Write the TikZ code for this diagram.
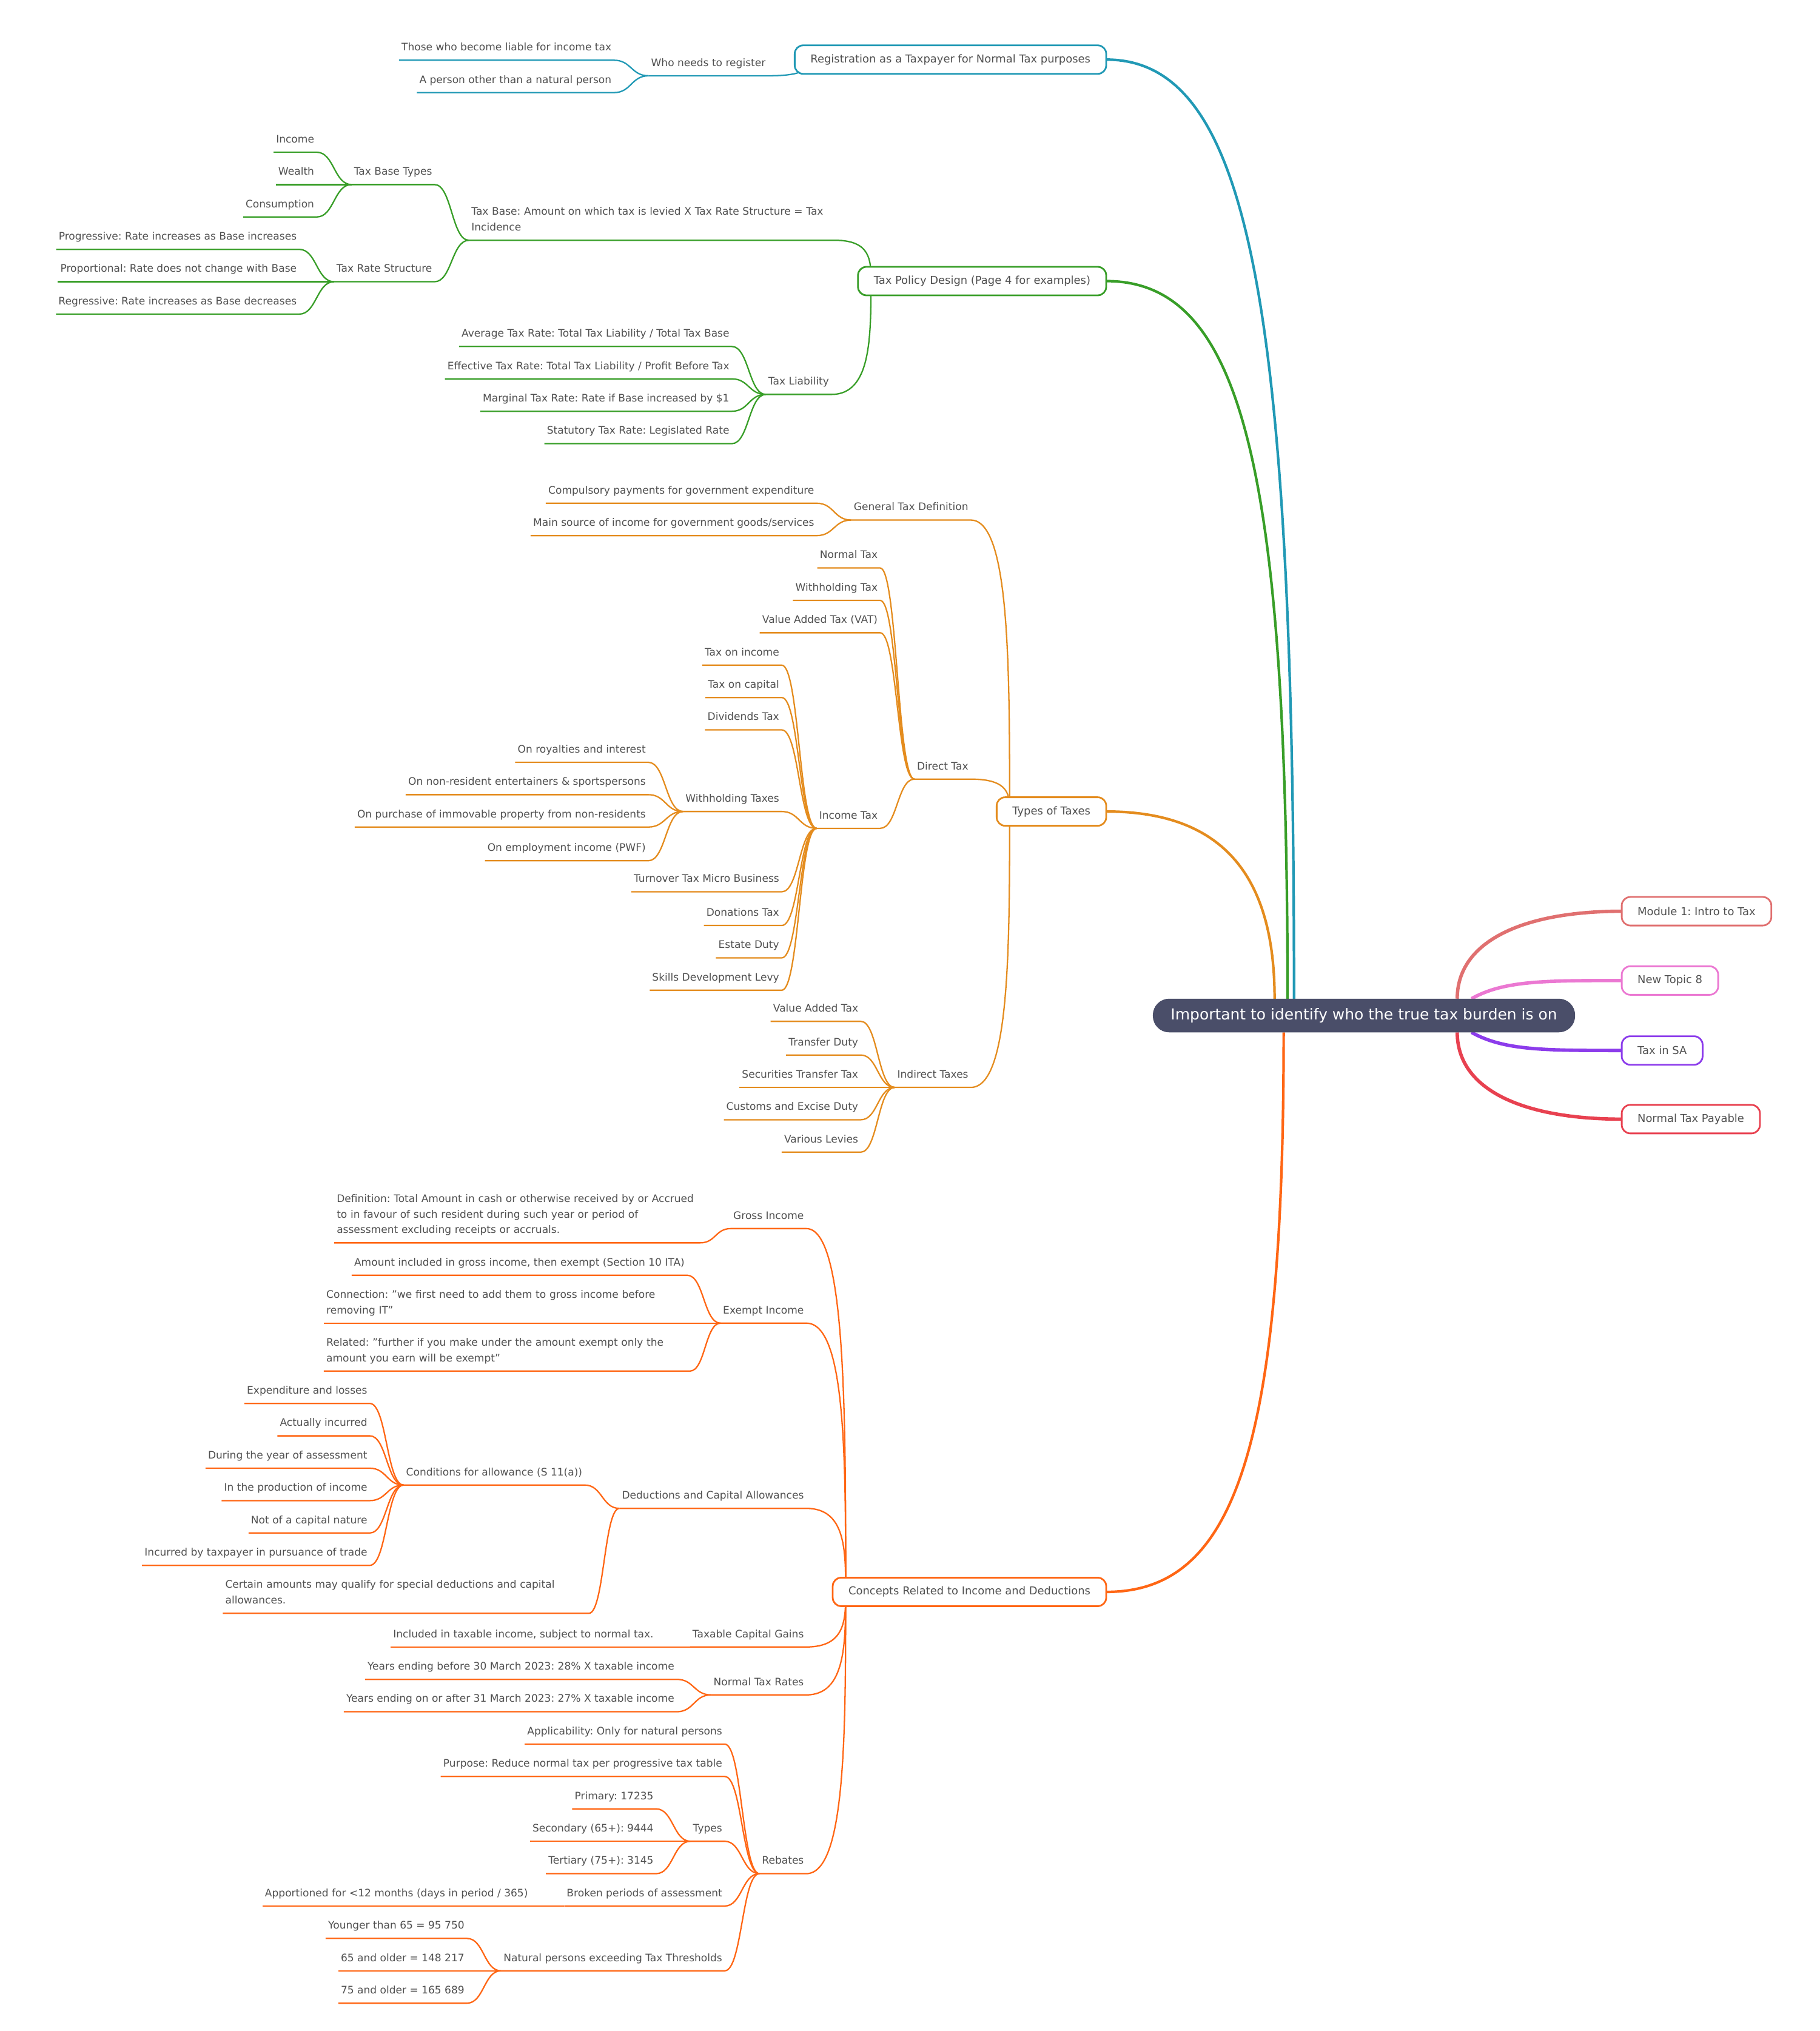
\documentclass[tikz,border=0pt]{standalone}
\usepackage{fontspec}
\setmainfont{DejaVu Sans}
\usepackage{xcolor}
\usepackage{tikz}
\usetikzlibrary{calc, backgrounds}
\definecolor{rootslate}{HTML}{4A4E69}
\definecolor{textgray}{HTML}{505050}
\definecolor{regteal}{HTML}{2199B5}
\definecolor{policygreen}{HTML}{389E28}
\definecolor{typesorange}{HTML}{E48C1E}
\definecolor{conceptorange}{HTML}{FF6614}
\definecolor{modsalmon}{HTML}{E07070}
\definecolor{topicpink}{HTML}{EB78D2}
\definecolor{sapurple}{HTML}{8C3CEB}
\definecolor{payred}{HTML}{E84150}
\frenchspacing

\begin{document}
\begin{tikzpicture}[x=0.21352mm, y=-0.21352mm,
  root/.style={rectangle, fill=rootslate, text=white, rounded corners=2.7mm, minimum width=6.96cm, minimum height=5.55mm, inner sep=0pt, outer sep=0pt, font=\fontsize{7.1}{8.5}\selectfont},
  topic/.style={rectangle, draw=#1, fill=white, line width=0.8pt, rounded corners=1.4mm, minimum height=4.7mm, inner xsep=2.6mm, inner ysep=0pt, outer sep=0pt, text=textgray, font=\fontsize{5.1}{6}\selectfont},
  leaf/.style={inner xsep=1.2pt, inner ysep=3.25pt, outer sep=0pt, text depth=1.2pt, text=textgray, font=\fontsize{4.85}{7.3}\selectfont},
  para/.style={leaf, text depth=, text width=5.95cm, align=left, execute at end node={\rule[-1.2pt]{0pt}{1pt}}},
  main/.style={draw=#1, line width=1.2pt},
  side/.style={draw=#1, line width=1.6pt},
  twig/.style={draw=#1, line width=0.65pt},
  link/.style={to path={let \p1=(\tikztostart), \p2=(\tikztotarget) in .. controls ({(\x1+\x2)/2},\y1) and ({(\x1+\x2)/2},\y2) .. (\tikztotarget)}},
  tobox/.style={to path={let \p1=(\tikztostart), \p2=(\tikztotarget) in .. controls (\x2,\y1) and (\x2,{(\y1+\y2)/2}) .. (\tikztotarget)}}
]
  \useasboundingbox (0,0) rectangle (1405,1568);

  \node[root] (root) at (1053,784) {Important to identify who the true tax burden is on};

  \node[topic=modsalmon, anchor=west] (mod1) at (1252,703.5) {Module 1: Intro to Tax};
  \node[topic=topicpink, anchor=west] (topic8) at (1252,757) {New Topic 8};
  \node[topic=sapurple, anchor=west] (taxsa) at (1252,811) {Tax in SA};
  \node[topic=payred, anchor=west] (payable) at (1252,864) {Normal Tax Payable};

  \node[topic=regteal, anchor=east] (reg) at (854,46) {Registration as a Taxpayer for Normal Tax purposes};
  \node[leaf, anchor=south east] (whoreg) at (593,58.5) {Who needs to register};
  \node[leaf, anchor=south east] (liable) at (474,46.5) {Those who become liable for income tax};
  \node[leaf, anchor=south east] (nonnatural) at (474,71.5) {A person other than a natural person};

  \node[topic=policygreen, anchor=east] (policy) at (854,217) {Tax Policy Design (Page 4 for examples)};
  \node[para, anchor=south west] (taxbase) at (362,185.5) {Tax Base: Amount on which tax is levied X Tax Rate Structure = Tax\\Incidence};
  \node[leaf, anchor=south east] (basetypes) at (335.5,142.5) {Tax Base Types};
  \node[leaf, anchor=south east] (income) at (244.5,117.5) {Income};
  \node[leaf, anchor=south east] (wealth) at (244.5,142.5) {Wealth};
  \node[leaf, anchor=south east] (consumption) at (244.5,167.5) {Consumption};
  \node[leaf, anchor=south east] (ratestruct) at (335.5,217.5) {Tax Rate Structure};
  \node[leaf, anchor=south east] (progressive) at (231,192.5) {Progressive: Rate increases as Base increases};
  \node[leaf, anchor=south east] (proportional) at (231,217.5) {Proportional: Rate does not change with Base};
  \node[leaf, anchor=south east] (regressive) at (231,242.5) {Regressive: Rate increases as Base decreases};
  \node[leaf, anchor=south east] (liability) at (642,304.5) {Tax Liability};
  \node[leaf, anchor=south east] (avgrate) at (565,267.5) {Average Tax Rate: Total Tax Liability / Total Tax Base};
  \node[leaf, anchor=south east] (effrate) at (565,292.5) {Effective Tax Rate: Total Tax Liability / Profit Before Tax};
  \node[leaf, anchor=south east] (margrate) at (565,317.5) {Marginal Tax Rate: Rate if Base increased by \$1};
  \node[leaf, anchor=south east] (statrate) at (565,342.5) {Statutory Tax Rate: Legislated Rate};

  \node[topic=typesorange, anchor=east] (types) at (854,626.5) {Types of Taxes};
  \node[leaf, anchor=south east] (gendef) at (749.5,401.5) {General Tax Definition};
  \node[leaf, anchor=south east] (compulsory) at (630.5,388.5) {Compulsory payments for government expenditure};
  \node[leaf, anchor=south east] (mainsource) at (630.5,413.5) {Main source of income for government goods/services};
  \node[leaf, anchor=south east] (direct) at (749.5,601.5) {Direct Tax};
  \node[leaf, anchor=south east] (normaltax) at (679.5,438.5) {Normal Tax};
  \node[leaf, anchor=south east] (whtax) at (679.5,463.5) {Withholding Tax};
  \node[leaf, anchor=south east] (vatdirect) at (679.5,488.5) {Value Added Tax (VAT)};
  \node[leaf, anchor=south east] (incometax) at (679.5,639.5) {Income Tax};
  \node[leaf, anchor=south east] (taxincome) at (603.5,513.5) {Tax on income};
  \node[leaf, anchor=south east] (taxcapital) at (603.5,538.5) {Tax on capital};
  \node[leaf, anchor=south east] (dividends) at (603.5,563.5) {Dividends Tax};
  \node[leaf, anchor=south east] (whtaxes) at (603.5,626.5) {Withholding Taxes};
  \node[leaf, anchor=south east] (turnover) at (603.5,688.5) {Turnover Tax Micro Business};
  \node[leaf, anchor=south east] (donations) at (603.5,714.5) {Donations Tax};
  \node[leaf, anchor=south east] (estate) at (603.5,739.5) {Estate Duty};
  \node[leaf, anchor=south east] (skills) at (603.5,764.5) {Skills Development Levy};
  \node[leaf, anchor=south east] (royalties) at (500.5,588.5) {On royalties and interest};
  \node[leaf, anchor=south east] (entertainers) at (500.5,613.5) {On non-resident entertainers \& sportspersons};
  \node[leaf, anchor=south east] (immovable) at (500.5,638.5) {On purchase of immovable property from non-residents};
  \node[leaf, anchor=south east] (employment) at (500.5,664.5) {On employment income (PWF)};
  \node[leaf, anchor=south east] (indirect) at (749.5,839.5) {Indirect Taxes};
  \node[leaf, anchor=south east] (vatindirect) at (664.5,788.5) {Value Added Tax};
  \node[leaf, anchor=south east] (transfer) at (664.5,814.5) {Transfer Duty};
  \node[leaf, anchor=south east] (securities) at (664.5,839.5) {Securities Transfer Tax};
  \node[leaf, anchor=south east] (customs) at (664.5,864.5) {Customs and Excise Duty};
  \node[leaf, anchor=south east] (levies) at (664.5,889.5) {Various Levies};

  \node[topic=conceptorange, anchor=east] (concepts) at (854,1229) {Concepts Related to Income and Deductions};
  \node[leaf, anchor=south east] (gross) at (622.5,948.5) {Gross Income};
  \node[para, anchor=south west] (definition) at (258,959.5) {Definition: Total Amount in cash or otherwise received by or Accrued\\to in favour of such resident during such year or period of\\assessment excluding receipts or accruals.};
  \node[leaf, anchor=south east] (exempt) at (622.5,1021.5) {Exempt Income};
  \node[leaf, anchor=south east] (amount) at (530.5,984.5) {Amount included in gross income, then exempt (Section 10 ITA)};
  \node[para, anchor=south west] (connection) at (250,1021.5) {Connection: \symbol{34}we first need to add them to gross income before\\removing IT\symbol{34}};
  \node[para, anchor=south west] (related) at (250,1058.5) {Related: \symbol{34}further if you make under the amount exempt only the\\amount you earn will be exempt\symbol{34}};
  \node[leaf, anchor=south east] (deductions) at (622.5,1164.5) {Deductions and Capital Allowances};
  \node[leaf, anchor=south east] (conditions) at (451.5,1146.5) {Conditions for allowance (S 11(a))};
  \node[leaf, anchor=south east] (expenditure) at (285.5,1083.5) {Expenditure and losses};
  \node[leaf, anchor=south east] (incurred) at (285.5,1108.5) {Actually incurred};
  \node[leaf, anchor=south east] (duringyear) at (285.5,1133.5) {During the year of assessment};
  \node[leaf, anchor=south east] (production) at (285.5,1158.5) {In the production of income};
  \node[leaf, anchor=south east] (notcapital) at (285.5,1183.5) {Not of a capital nature};
  \node[leaf, anchor=south east] (pursuance) at (285.5,1208.5) {Incurred by taxpayer in pursuance of trade};
  \node[para, anchor=south west] (certain) at (172,1245.5) {Certain amounts may qualify for special deductions and capital\\allowances.};
  \node[leaf, anchor=south east] (capgains) at (622.5,1271.5) {Taxable Capital Gains};
  \node[leaf, anchor=south east] (included) at (506.5,1271.5) {Included in taxable income, subject to normal tax.};
  \node[leaf, anchor=south east] (taxrates) at (622.5,1308.5) {Normal Tax Rates};
  \node[leaf, anchor=south east] (before) at (522.5,1296.5) {Years ending before 30 March 2023: 28\% X taxable income};
  \node[leaf, anchor=south east] (after) at (522.5,1321.5) {Years ending on or after 31 March 2023: 27\% X taxable income};
  \node[leaf, anchor=south east] (rebates) at (622.5,1446.5) {Rebates};
  \node[leaf, anchor=south east] (applicability) at (559.5,1346.5) {Applicability: Only for natural persons};
  \node[leaf, anchor=south east] (purpose) at (559.5,1371.5) {Purpose: Reduce normal tax per progressive tax table};
  \node[leaf, anchor=south east] (rebtypes) at (559.5,1421.5) {Types};
  \node[leaf, anchor=south east] (primary) at (506.5,1396.5) {Primary: 17235};
  \node[leaf, anchor=south east] (secondary) at (506.5,1421.5) {Secondary (65+): 9444};
  \node[leaf, anchor=south east] (tertiary) at (506.5,1446.5) {Tertiary (75+): 3145};
  \node[leaf, anchor=south east] (broken) at (559.5,1471.5) {Broken periods of assessment};
  \node[leaf, anchor=south east] (apportioned) at (409.5,1471.5) {Apportioned for <12 months (days in period / 365)};
  \node[leaf, anchor=south east] (natural) at (559.5,1521.5) {Natural persons exceeding Tax Thresholds};
  \node[leaf, anchor=south east] (younger) at (360.5,1496.5) {Younger than 65 = 95 750};
  \node[leaf, anchor=south east] (older65) at (360.5,1521.5) {65 and older = 148 217};
  \node[leaf, anchor=south east] (older75) at (360.5,1546.5) {75 and older = 165 689};

  \begin{scope}[on background layer]
    \draw[main=regteal] (reg.east) .. controls +(110,0) and +(0,-540) .. ($(root.north)+(-54,0)$);
    \draw[main=policygreen] (policy.east) .. controls +(105,0) and +(0,-410) .. ($(root.north)+(-59,0)$);
    \draw[main=typesorange] (types.east) .. controls +(90,0) and +(0,-95) .. ($(root.north)+(-69,0)$);
    \draw[main=conceptorange] (concepts.east) .. controls +(100,0) and +(0,320) .. ($(root.south)+(-62,0)$);
    \draw[side=modsalmon] ($(root.north)+(72,0)$) .. controls +(0,-45) and +(-75,0) .. (mod1.west);
    \draw[side=topicpink] ($(root.north)+(83,0)$) .. controls +(25,-14) and +(-60,0) .. (topic8.west);
    \draw[side=sapurple] ($(root.south)+(83,0)$) .. controls +(25,14) and +(-60,0) .. (taxsa.west);
    \draw[side=payred] ($(root.south)+(72,0)$) .. controls +(0,45) and +(-75,0) .. (payable.west);

    \draw[twig=regteal] (whoreg.south west) -- (whoreg.south east) to[tobox] ($(reg.west)+(10,0)$);
    \draw[twig=regteal] (liable.south west) -- (liable.south east) to[link] (whoreg.south west);
    \draw[twig=regteal] (nonnatural.south west) -- (nonnatural.south east) to[link] (whoreg.south west);

    \draw[twig=policygreen] (taxbase.south west) -- (taxbase.south east) to[tobox] ($(policy.west)+(10,0)$);
    \draw[twig=policygreen] (liability.south west) -- (liability.south east) to[tobox] ($(policy.west)+(10,0)$);
    \draw[twig=policygreen] (basetypes.south west) -- (basetypes.south east) to[link] (taxbase.south west);
    \draw[twig=policygreen] (ratestruct.south west) -- (ratestruct.south east) to[link] (taxbase.south west);
    \draw[twig=policygreen] (income.south west) -- (income.south east) to[link] (basetypes.south west);
    \draw[twig=policygreen] (wealth.south west) -- (wealth.south east) to[link] (basetypes.south west);
    \draw[twig=policygreen] (consumption.south west) -- (consumption.south east) to[link] (basetypes.south west);
    \draw[twig=policygreen] (progressive.south west) -- (progressive.south east) to[link] (ratestruct.south west);
    \draw[twig=policygreen] (proportional.south west) -- (proportional.south east) to[link] (ratestruct.south west);
    \draw[twig=policygreen] (regressive.south west) -- (regressive.south east) to[link] (ratestruct.south west);
    \draw[twig=policygreen] (avgrate.south west) -- (avgrate.south east) to[link] (liability.south west);
    \draw[twig=policygreen] (effrate.south west) -- (effrate.south east) to[link] (liability.south west);
    \draw[twig=policygreen] (margrate.south west) -- (margrate.south east) to[link] (liability.south west);
    \draw[twig=policygreen] (statrate.south west) -- (statrate.south east) to[link] (liability.south west);

    \draw[twig=typesorange] (gendef.south west) -- (gendef.south east) to[tobox] ($(types.west)+(10,0)$);
    \draw[twig=typesorange] (direct.south west) -- (direct.south east) to[tobox] ($(types.west)+(10,0)$);
    \draw[twig=typesorange] (indirect.south west) -- (indirect.south east) to[tobox] ($(types.west)+(10,0)$);
    \draw[twig=typesorange] (compulsory.south west) -- (compulsory.south east) to[link] (gendef.south west);
    \draw[twig=typesorange] (mainsource.south west) -- (mainsource.south east) to[link] (gendef.south west);
    \draw[twig=typesorange] (normaltax.south west) -- (normaltax.south east) to[link] (direct.south west);
    \draw[twig=typesorange] (whtax.south west) -- (whtax.south east) to[link] (direct.south west);
    \draw[twig=typesorange] (vatdirect.south west) -- (vatdirect.south east) to[link] (direct.south west);
    \draw[twig=typesorange] (incometax.south west) -- (incometax.south east) to[link] (direct.south west);
    \draw[twig=typesorange] (taxincome.south west) -- (taxincome.south east) to[link] (incometax.south west);
    \draw[twig=typesorange] (taxcapital.south west) -- (taxcapital.south east) to[link] (incometax.south west);
    \draw[twig=typesorange] (dividends.south west) -- (dividends.south east) to[link] (incometax.south west);
    \draw[twig=typesorange] (whtaxes.south west) -- (whtaxes.south east) to[link] (incometax.south west);
    \draw[twig=typesorange] (turnover.south west) -- (turnover.south east) to[link] (incometax.south west);
    \draw[twig=typesorange] (donations.south west) -- (donations.south east) to[link] (incometax.south west);
    \draw[twig=typesorange] (estate.south west) -- (estate.south east) to[link] (incometax.south west);
    \draw[twig=typesorange] (skills.south west) -- (skills.south east) to[link] (incometax.south west);
    \draw[twig=typesorange] (royalties.south west) -- (royalties.south east) to[link] (whtaxes.south west);
    \draw[twig=typesorange] (entertainers.south west) -- (entertainers.south east) to[link] (whtaxes.south west);
    \draw[twig=typesorange] (immovable.south west) -- (immovable.south east) to[link] (whtaxes.south west);
    \draw[twig=typesorange] (employment.south west) -- (employment.south east) to[link] (whtaxes.south west);
    \draw[twig=typesorange] (vatindirect.south west) -- (vatindirect.south east) to[link] (indirect.south west);
    \draw[twig=typesorange] (transfer.south west) -- (transfer.south east) to[link] (indirect.south west);
    \draw[twig=typesorange] (securities.south west) -- (securities.south east) to[link] (indirect.south west);
    \draw[twig=typesorange] (customs.south west) -- (customs.south east) to[link] (indirect.south west);
    \draw[twig=typesorange] (levies.south west) -- (levies.south east) to[link] (indirect.south west);

    \draw[twig=conceptorange] (gross.south west) -- (gross.south east) to[tobox] ($(concepts.west)+(10,0)$);
    \draw[twig=conceptorange] (exempt.south west) -- (exempt.south east) to[tobox] ($(concepts.west)+(10,0)$);
    \draw[twig=conceptorange] (deductions.south west) -- (deductions.south east) to[tobox] ($(concepts.west)+(10,0)$);
    \draw[twig=conceptorange] (capgains.south west) -- (capgains.south east) to[tobox] ($(concepts.west)+(10,0)$);
    \draw[twig=conceptorange] (taxrates.south west) -- (taxrates.south east) to[tobox] ($(concepts.west)+(10,0)$);
    \draw[twig=conceptorange] (rebates.south west) -- (rebates.south east) to[tobox] ($(concepts.west)+(10,0)$);
    \draw[twig=conceptorange] (definition.south west) -- (definition.south east) to[link] (gross.south west);
    \draw[twig=conceptorange] (amount.south west) -- (amount.south east) to[link] (exempt.south west);
    \draw[twig=conceptorange] (connection.south west) -- (connection.south east) to[link] (exempt.south west);
    \draw[twig=conceptorange] (related.south west) -- (related.south east) to[link] (exempt.south west);
    \draw[twig=conceptorange] (conditions.south west) -- (conditions.south east) to[link] (deductions.south west);
    \draw[twig=conceptorange] (certain.south west) -- (certain.south east) to[link] (deductions.south west);
    \draw[twig=conceptorange] (expenditure.south west) -- (expenditure.south east) to[link] (conditions.south west);
    \draw[twig=conceptorange] (incurred.south west) -- (incurred.south east) to[link] (conditions.south west);
    \draw[twig=conceptorange] (duringyear.south west) -- (duringyear.south east) to[link] (conditions.south west);
    \draw[twig=conceptorange] (production.south west) -- (production.south east) to[link] (conditions.south west);
    \draw[twig=conceptorange] (notcapital.south west) -- (notcapital.south east) to[link] (conditions.south west);
    \draw[twig=conceptorange] (pursuance.south west) -- (pursuance.south east) to[link] (conditions.south west);
    \draw[twig=conceptorange] (included.south west) -- (included.south east) to[link] (capgains.south west);
    \draw[twig=conceptorange] (before.south west) -- (before.south east) to[link] (taxrates.south west);
    \draw[twig=conceptorange] (after.south west) -- (after.south east) to[link] (taxrates.south west);
    \draw[twig=conceptorange] (applicability.south west) -- (applicability.south east) to[link] (rebates.south west);
    \draw[twig=conceptorange] (purpose.south west) -- (purpose.south east) to[link] (rebates.south west);
    \draw[twig=conceptorange] (rebtypes.south west) -- (rebtypes.south east) to[link] (rebates.south west);
    \draw[twig=conceptorange] (broken.south west) -- (broken.south east) to[link] (rebates.south west);
    \draw[twig=conceptorange] (natural.south west) -- (natural.south east) to[link] (rebates.south west);
    \draw[twig=conceptorange] (primary.south west) -- (primary.south east) to[link] (rebtypes.south west);
    \draw[twig=conceptorange] (secondary.south west) -- (secondary.south east) to[link] (rebtypes.south west);
    \draw[twig=conceptorange] (tertiary.south west) -- (tertiary.south east) to[link] (rebtypes.south west);
    \draw[twig=conceptorange] (apportioned.south west) -- (apportioned.south east) to[link] (broken.south west);
    \draw[twig=conceptorange] (younger.south west) -- (younger.south east) to[link] (natural.south west);
    \draw[twig=conceptorange] (older65.south west) -- (older65.south east) to[link] (natural.south west);
    \draw[twig=conceptorange] (older75.south west) -- (older75.south east) to[link] (natural.south west);
  \end{scope}
\end{tikzpicture}
\end{document}
